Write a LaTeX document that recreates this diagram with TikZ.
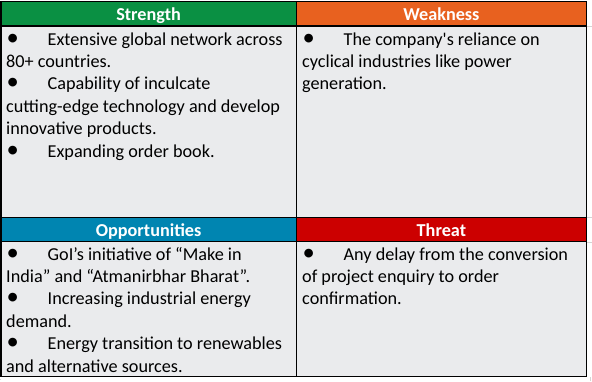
\documentclass[tikz,border=0pt]{standalone}
\usepackage{fontspec}
\setmainfont{Carlito}
\newfontfamily\rawcarlito{Carlito}
\definecolor{sgreen}{HTML}{0A9043}
\definecolor{worange}{HTML}{E8611F}
\definecolor{oblue}{HTML}{0085B1}
\definecolor{tred}{HTML}{CC0000}
\definecolor{cellgray}{HTML}{EAEBED}
\definecolor{gridgray}{HTML}{D4D4D4}
\tikzset{
  hdr/.style={text=white, font=\bfseries\fontsize{18.2}{20}\selectfont, inner sep=0pt},
  body/.style={anchor=north west, align=left, inner sep=0pt, font=\fontsize{18.2}{22.4}\selectfont},
  border/.style={draw=black, line width=1.2pt},
}
\newcommand{\bul}{\makebox[41.5pt][l]{\hspace{0.5pt}\scalebox{1.35}{•}}}
\begin{document}
\begin{tikzpicture}[x=1pt,y=-1pt]
\useasboundingbox (0,0) rectangle (592,381);
% faint sheet gridlines
\draw[gridgray, line width=0.8pt] (587,26) -- (592,26) (587,217) -- (592,217) (587,242) -- (592,242);
\draw[gridgray, line width=0.8pt] (590,377) -- (590,381) (0,379.5) -- (1,379.5);
% cells
\fill[cellgray] (1,1.5) rectangle (586.5,376.7);
\fill[sgreen] (1,1.5) rectangle (296.3,26);
\fill[worange] (296.3,1.5) rectangle (586.5,26);
\fill[oblue] (1,217.3) rectangle (296.3,241.7);
\fill[tred] (296.3,217.3) rectangle (586.5,241.7);
% borders
\draw[border] (1,1.5) rectangle (586.5,376.7);
\draw[border] (1,26) -- (586.5,26);
\draw[border] (1,217.3) -- (586.5,217.3);
\draw[border] (1,241.7) -- (586.5,241.7);
\draw[border] (296.3,1.5) -- (296.3,376.7);
% headers
\node[hdr, anchor=base] (hS) at (148.6,20.7) {Strength};
\node[hdr, anchor=base] (hW) at (441.4,20.7) {Weakness};
\node[hdr, anchor=base] (hO) at (148.6,236.4) {Opportunities};
\node[hdr, anchor=base] (hT) at (441.4,236.4) {Threat};
% bodies
\node[body] (tS) at (6,29.3) {\strut\bul Extensive global network across\\80+ countries.\\\bul Capability of inculcate\\cutting-edge technology and develop\\innovative products.\\\bul Expanding order book.};
\node[body] (tW) at (302,29.3) {\strut\bul The company{\rawcarlito'}s reliance on\\cyclical industries like power\\generation.};
\node[body] (tO) at (6,244.3) {\strut\bul GoI’s initiative of “Make in\\India” and “Atmanirbhar Bharat”.\\\bul Increasing industrial energy\\demand.\\\bul Energy transition to renewables\\and alternative sources.};
\node[body] (tT) at (302,244.3) {\strut\bul Any delay from the conversion\\of project enquiry to order\\confirmation.};
\end{tikzpicture}
\end{document}
